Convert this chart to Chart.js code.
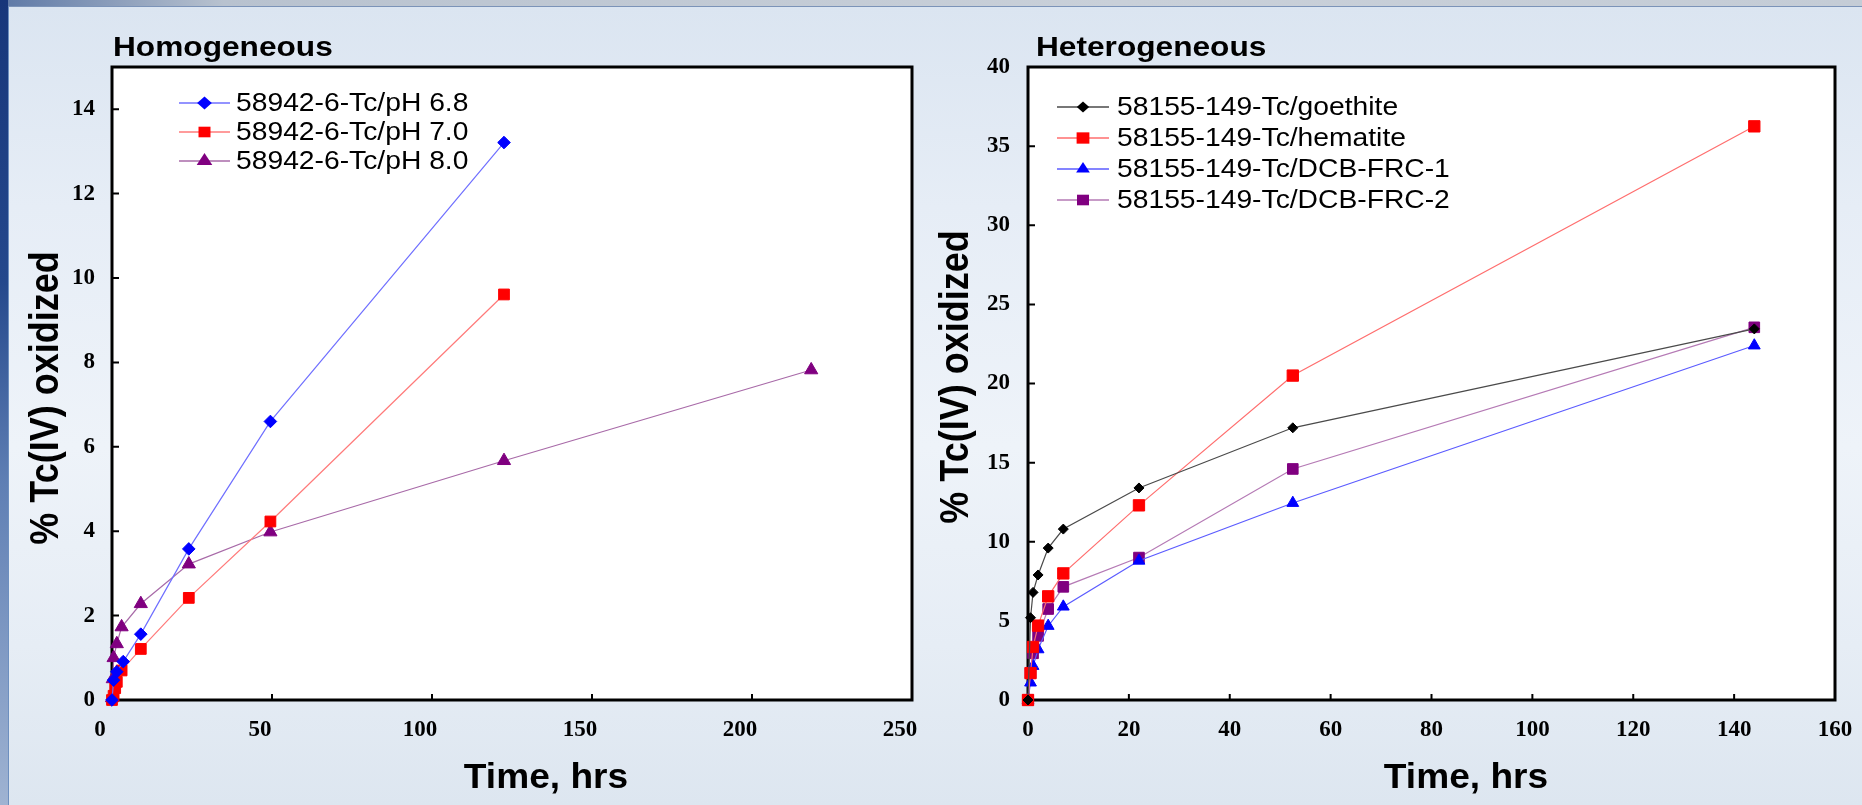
<!DOCTYPE html>
<html>
<head>
<meta charset="utf-8">
<script src="https://cdn.jsdelivr.net/npm/chart.js@4.4.0/dist/chart.umd.min.js"></script>
<style>
html,body{margin:0;padding:0;width:1862px;height:805px;overflow:hidden;}
body{background:#dbe4ef;position:relative;font-family:"Liberation Sans",Arial,sans-serif;}
#bg{position:absolute;left:8px;top:6px;right:0;bottom:0;
  background:linear-gradient(180deg,#dbe5f1 0%,#e6edf6 25%,#eef3f9 55%,#e6edf5 80%,#dde6f0 100%);
  border-left:1px solid #6d8fbf;border-top:1px solid #7b93b8;}
#topband{position:absolute;left:0;top:0;width:100%;height:6px;background:linear-gradient(90deg,#5d78a6 0%,#b8c2cf 12%,#c9d0d9 60%,#c4ccd6 100%);}
#leftband{position:absolute;left:0;top:0;width:8px;height:100%;background:linear-gradient(180deg,#17367a 0%,#24488c 35%,#5f7fb4 60%,#9fb3d2 100%);}
canvas{position:absolute;top:0;}
#c1{left:0;}
#c2{left:931px;}
</style>
</head>
<body>
<div id="topband"></div>
<div id="leftband"></div>
<div id="bg"></div>
<canvas id="c1" width="931" height="805"></canvas>
<canvas id="c2" width="931" height="805"></canvas>
<script>
// ---------------- Homogeneous data ----------------
const homLabels = ['58942-6-Tc/pH 6.8', '58942-6-Tc/pH 7.0', '58942-6-Tc/pH 8.0'];
const homTimePH68 = [0, 0.5, 1.5, 3.5, 9, 24, 49.5, 122.5];
const homPctPH68  = [0, 0.47, 0.67, 0.91, 1.56, 3.58, 6.60, 13.21];
const homTimePH70 = [0, 0.5, 1, 1.5, 3, 9, 24, 49.5, 122.5];
const homPctPH70  = [0, 0.10, 0.28, 0.43, 0.70, 1.21, 2.42, 4.23, 9.61];
const homTimePH80 = [0, 0.25, 0.5, 1.5, 3, 9, 24, 49.5, 122.5, 218.5];
const homPctPH80  = [0.05, 0.50, 1.00, 1.33, 1.73, 2.28, 3.22, 3.98, 5.67, 7.82];
const homXTicks = [0, 50, 100, 150, 200, 250];
const homYTicks = [0, 2, 4, 6, 8, 10, 12, 14];

// ---------------- Heterogeneous data ----------------
const hetLabels = ['58155-149-Tc/goethite', '58155-149-Tc/hematite', '58155-149-Tc/DCB-FRC-1', '58155-149-Tc/DCB-FRC-2'];
const hetTime      = [0, 0.5, 1, 2, 4, 7, 22, 52.5, 144];
const hetGoethite  = [0, 5.2, 6.8, 7.9, 9.6, 10.8, 13.4, 17.2, 23.45];
const hetHematite  = [0, 1.7, 3.35, 4.7, 6.55, 8.0, 12.3, 20.5, 36.25];
const hetDCBFRC1   = [0, 1.1, 2.15, 3.2, 4.68, 5.9, 8.8, 12.45, 22.4];
const hetDCBFRC2   = [0, 1.7, 2.95, 4.05, 5.75, 7.15, 9.0, 14.6, 23.55];
const hetXTicks = [0, 20, 40, 60, 80, 100, 120, 140, 160];
const hetYTicks = [0, 5, 10, 15, 20, 25, 30, 35, 40];

const pts = (xs, ys) => xs.map((x, i) => ({x: x, y: ys[i]}));

const SX = 1.13; // horizontal stretch of the slide text
const TICK_FONT = {family: '"Liberation Serif","Times New Roman",serif', size: 23, weight: 'bold'};

function markerPath(ctx, style, x, y, r) {
  ctx.beginPath();
  if (style === 'rectRot') {
    ctx.moveTo(x, y - r); ctx.lineTo(x + r, y); ctx.lineTo(x, y + r); ctx.lineTo(x - r, y);
  } else if (style === 'rect') {
    const s = r * Math.SQRT1_2;
    ctx.rect(x - s, y - s, 2 * s, 2 * s);
  } else if (style === 'triangle') {
    const a = Math.PI * 2 / 3;
    ctx.moveTo(x, y - r);
    ctx.lineTo(x + Math.sin(a) * r, y - Math.cos(a) * r);
    ctx.lineTo(x + Math.sin(2 * a) * r, y - Math.cos(2 * a) * r);
  }
  ctx.closePath();
}

function stretchedText(ctx, text, x, y, font, align, sx) {
  ctx.save();
  ctx.font = font;
  ctx.fillStyle = '#000';
  ctx.textBaseline = 'alphabetic';
  ctx.textAlign = 'left';
  const w = ctx.measureText(text).width * sx;
  const x0 = align === 'center' ? x - w / 2 : x;
  ctx.translate(x0, y);
  ctx.scale(sx, 1);
  ctx.fillText(text, 0, 0);
  ctx.restore();
}

function decorPlugin(o) {
  return {
    id: 'decor',
    beforeDraw(chart) {
      const {ctx, chartArea: a} = chart;
      ctx.save();
      ctx.fillStyle = '#ffffff';
      ctx.fillRect(a.left, a.top, a.right - a.left, a.bottom - a.top);
      ctx.restore();
    },
    beforeDatasetsDraw(chart) {
      const {ctx, chartArea: a, scales} = chart;
      ctx.save();
      ctx.strokeStyle = '#000';
      ctx.lineWidth = 3;
      ctx.strokeRect(a.left, a.top, a.right - a.left, a.bottom - a.top);
      ctx.lineWidth = 2;
      ctx.beginPath();
      scales.x.ticks.forEach(t => {
        if (t.value <= scales.x.min || t.value >= scales.x.max) return;
        const px = scales.x.getPixelForValue(t.value);
        ctx.moveTo(px, a.bottom); ctx.lineTo(px, a.bottom - 6);
      });
      scales.y.ticks.forEach(t => {
        if (t.value <= scales.y.min || t.value >= scales.y.max) return;
        const py = scales.y.getPixelForValue(t.value);
        ctx.moveTo(a.left, py); ctx.lineTo(a.left + 7, py);
      });
      ctx.stroke();
      ctx.restore();
    },
    afterDraw(chart) {
      const {ctx} = chart;
      stretchedText(ctx, o.title, o.titleX, 56, 'bold 28px "Liberation Sans", Arial, sans-serif', 'left', SX);
      stretchedText(ctx, 'Time, hrs', o.xTitleX, 788, 'bold 35px "Liberation Sans", Arial, sans-serif', 'center', 1.06);
      ctx.save();
      ctx.translate(o.yTitleX, o.yTitleY);
      ctx.rotate(-Math.PI / 2);
      ctx.scale(1, SX);
      ctx.font = 'bold 36px "Liberation Sans", Arial, sans-serif';
      ctx.fillStyle = '#000';
      ctx.textAlign = 'center';
      ctx.textBaseline = 'middle';
      ctx.fillText('% Tc(IV) oxidized', 0, 0);
      ctx.restore();
      chart.data.datasets.forEach((ds, i) => {
        const y = o.legY + i * o.legStep;
        ctx.save();
        ctx.strokeStyle = ds.borderColor;
        ctx.lineWidth = 1.3;
        ctx.beginPath();
        ctx.moveTo(o.legX0, y); ctx.lineTo(o.legX1, y);
        ctx.stroke();
        ctx.translate((o.legX0 + o.legX1) / 2, y);
        ctx.scale(SX, 1);
        ctx.fillStyle = ds.pointBackgroundColor;
        markerPath(ctx, ds.pointStyle, 0, 0, ds.legendRadius);
        ctx.fill();
        ctx.restore();
        ctx.save();
        ctx.font = '25px "Liberation Sans", Arial, sans-serif';
        ctx.fillStyle = '#000';
        ctx.textBaseline = 'middle';
        ctx.translate(o.legTextX, y + 1);
        ctx.scale(SX, 1);
        ctx.fillText(ds.label, 0, 0);
        ctx.restore();
      });
    }
  };
}

function series(label, data, line, marker, style, r, lr) {
  return {
    label: label, data: data, showLine: true, clip: false,
    borderColor: line, borderWidth: 1.2,
    backgroundColor: marker, pointBackgroundColor: marker, pointBorderColor: marker,
    pointBorderWidth: 1, pointStyle: style, pointRadius: r, pointHoverRadius: r,
    legendRadius: lr, tension: 0
  };
}

function axes(xmin, xmax, xstep, xLabelOffset, ymin, ymax, ystep, yWidth, yPad) {
  return {
    x: {
      type: 'linear', min: xmin, max: xmax,
      ticks: {stepSize: xstep, font: TICK_FONT, color: '#000', padding: 16, labelOffset: xLabelOffset, maxRotation: 0, autoSkip: false},
      grid: {display: false, drawTicks: false}, border: {display: false},
      afterFit(s) { s.height = 105; s.paddingLeft = 0; s.paddingRight = 0; }
    },
    y: {
      type: 'linear', min: ymin, max: ymax,
      ticks: {stepSize: ystep, includeBounds: false, font: TICK_FONT, color: '#000', padding: yPad, autoSkip: false},
      grid: {display: false, drawTicks: false}, border: {display: false},
      afterFit(s) { s.width = yWidth; s.paddingTop = 0; s.paddingBottom = 0; }
    }
  };
}

const common = {
  responsive: false, animation: false, devicePixelRatio: 1,
  plugins: {legend: {display: false}, tooltip: {enabled: false}, title: {display: false}},
  events: []
};

new Chart(document.getElementById('c1'), {
  type: 'scatter',
  data: {
    datasets: [
      series(homLabels[0], pts(homTimePH68, homPctPH68), '#6f6fff', '#0000ff', 'rectRot', 6.3, 6.5),
      series(homLabels[1], pts(homTimePH70, homPctPH70), '#ff7a7a', '#ff0000', 'rect', 7.6, 7.5),
      series(homLabels[2], pts(homTimePH80, homPctPH80), '#a86aa8', '#800080', 'triangle', 7.6, 8)
    ]
  },
  options: Object.assign({}, common, {
    layout: {padding: {top: 67, right: 19, left: 0, bottom: 0}},
    scales: axes(homXTicks[0], homXTicks[homXTicks.length - 1], homXTicks[1] - homXTicks[0], -12,
                 0, 15, homYTicks[1] - homYTicks[0], 112, 17)
  }),
  plugins: [decorPlugin({title: 'Homogeneous', titleX: 113, xTitleX: 546, yTitleX: 47, yTitleY: 398,
    legX0: 179, legX1: 230, legY: 103, legStep: 29, legTextX: 236})]
});

new Chart(document.getElementById('c2'), {
  type: 'scatter',
  data: {
    datasets: [
      series(hetLabels[0], pts(hetTime, hetGoethite), '#4a4a4a', '#000000', 'rectRot', 5, 5.5),
      series(hetLabels[1], pts(hetTime, hetHematite), '#ff6e6e', '#ff0000', 'rect', 8, 8),
      series(hetLabels[2], pts(hetTime, hetDCBFRC1), '#5b5bff', '#0000ff', 'triangle', 6.8, 7),
      series(hetLabels[3], pts(hetTime, hetDCBFRC2), '#b57ab5', '#800080', 'rect', 7.5, 7.5)
    ]
  },
  options: Object.assign({}, common, {
    layout: {padding: {top: 67, right: 27, left: 0, bottom: 0}},
    scales: axes(hetXTicks[0], hetXTicks[hetXTicks.length - 1], hetXTicks[1] - hetXTicks[0], 0,
                 hetYTicks[0], hetYTicks[hetYTicks.length - 1], hetYTicks[1] - hetYTicks[0], 97, 18)
  }),
  plugins: [decorPlugin({title: 'Heterogeneous', titleX: 105, xTitleX: 535, yTitleX: 26, yTitleY: 377,
    legX0: 126, legX1: 178, legY: 107, legStep: 31, legTextX: 186})]
});
</script>
</body>
</html>
